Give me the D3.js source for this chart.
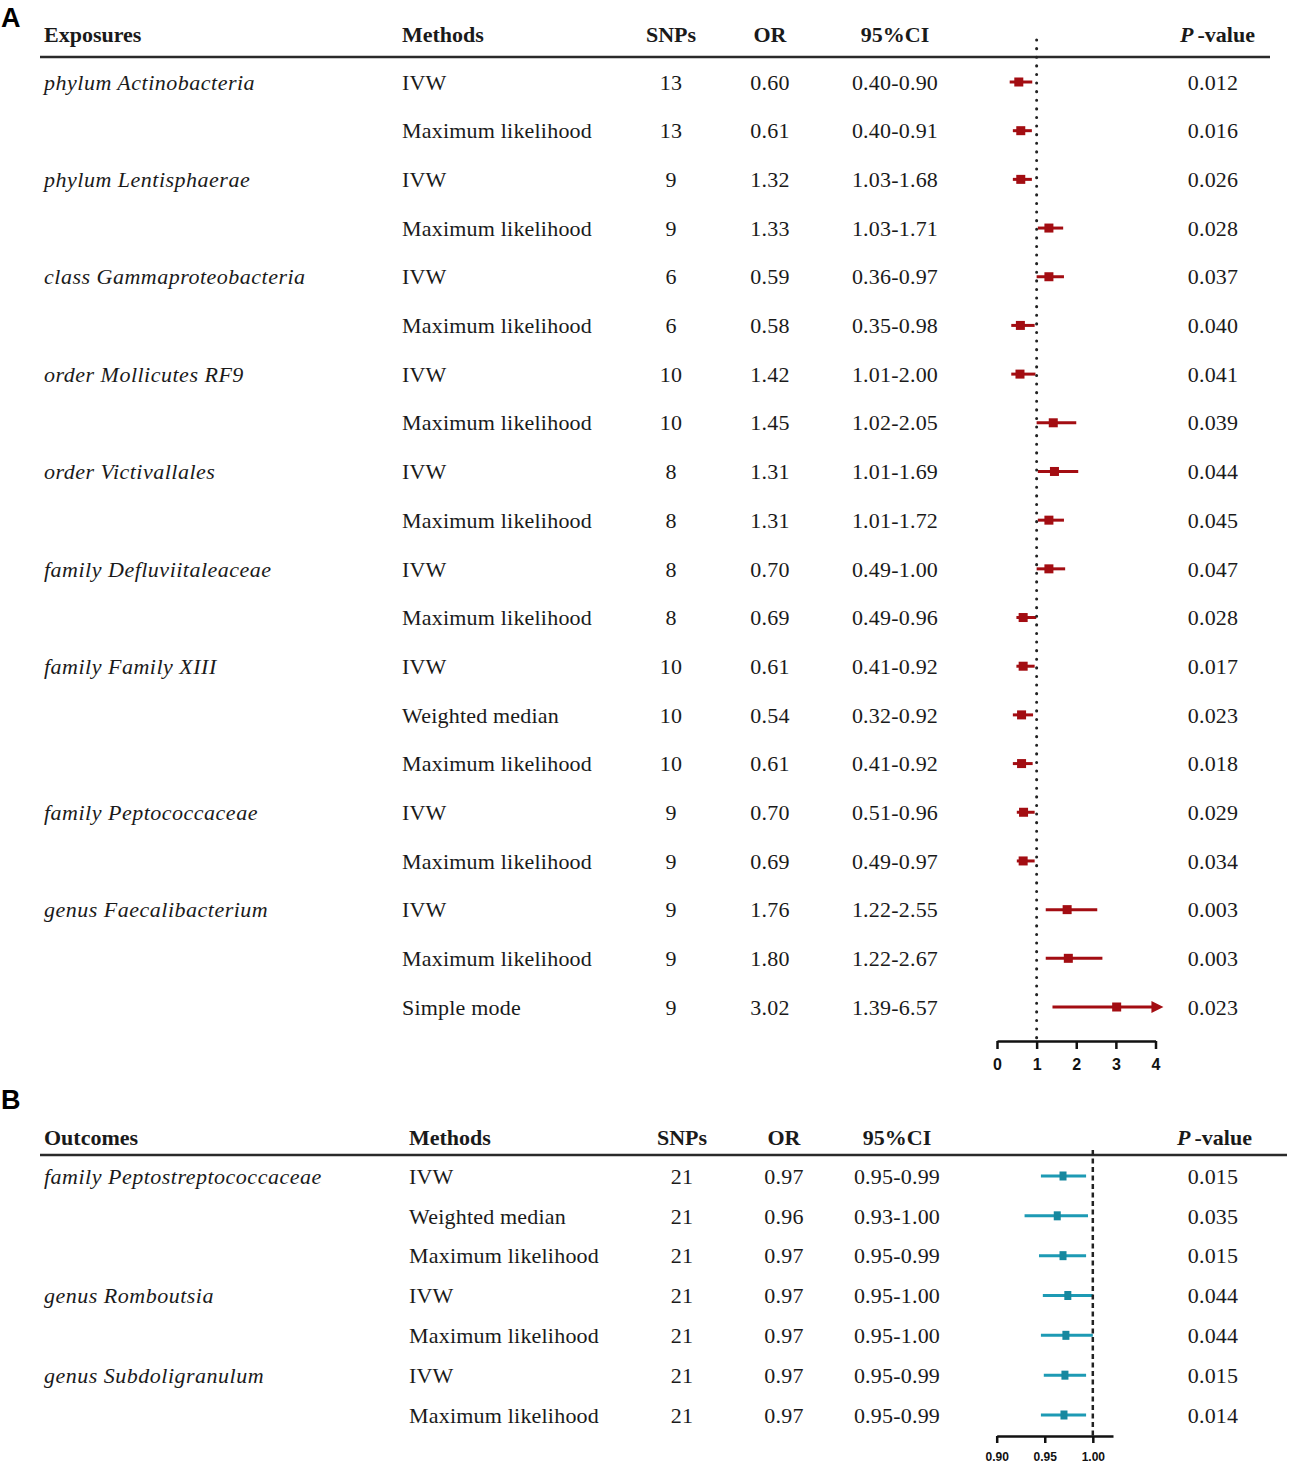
<!DOCTYPE html>
<html>
<head>
<meta charset="utf-8">
<script src="https://cdn.jsdelivr.net/npm/d3@7"></script>
<style>
  body { margin: 0; background: #fff; }
  svg text { font-family: "Liberation Serif", "Times New Roman", serif; fill: #1a1a1a; }
  .hdr { font-weight: bold; font-size: 22px; }
  .cell { font-size: 22px; letter-spacing: 0.2px; }
  .expo { font-style: italic; font-size: 22px; letter-spacing: 0.5px; }
  .panel { font-family: "Liberation Sans", Arial, sans-serif; font-weight: bold; font-size: 27px; fill: #000; }
  .axis text { font-family: "Liberation Sans", Arial, sans-serif; font-weight: bold; fill: #111; }
</style>
</head>
<body>
<svg id="chart"></svg>
<script>
// ---- panel A: exposures ----
var exposuresA = ["phylum Actinobacteria", "", "phylum Lentisphaerae", "", "class Gammaproteobacteria", "",
  "order Mollicutes RF9", "", "order Victivallales", "", "family Defluviitaleaceae", "",
  "family Family XIII", "", "", "family Peptococcaceae", "", "genus Faecalibacterium", "", ""];
var methodsA = ["IVW", "Maximum likelihood", "IVW", "Maximum likelihood", "IVW", "Maximum likelihood",
  "IVW", "Maximum likelihood", "IVW", "Maximum likelihood", "IVW", "Maximum likelihood",
  "IVW", "Weighted median", "Maximum likelihood", "IVW", "Maximum likelihood",
  "IVW", "Maximum likelihood", "Simple mode"];
var snpsA = ["13", "13", "9", "9", "6", "6", "10", "10", "8", "8", "8", "8", "10", "10", "10", "9", "9", "9", "9", "9"];
var orA = ["0.60", "0.61", "1.32", "1.33", "0.59", "0.58", "1.42", "1.45", "1.31", "1.31",
  "0.70", "0.69", "0.61", "0.54", "0.61", "0.70", "0.69", "1.76", "1.80", "3.02"];
var ciA = ["0.40-0.90", "0.40-0.91", "1.03-1.68", "1.03-1.71", "0.36-0.97", "0.35-0.98", "1.01-2.00", "1.02-2.05",
  "1.01-1.69", "1.01-1.72", "0.49-1.00", "0.49-0.96", "0.41-0.92", "0.32-0.92", "0.41-0.92", "0.51-0.96",
  "0.49-0.97", "1.22-2.55", "1.22-2.67", "1.39-6.57"];
var pA = ["0.012", "0.016", "0.026", "0.028", "0.037", "0.040", "0.041", "0.039", "0.044", "0.045",
  "0.047", "0.028", "0.017", "0.023", "0.018", "0.029", "0.034", "0.003", "0.003", "0.023"];
// where the marks sit in the figure
var plotOrA = [0.55, 0.60, 0.60, 1.31, 1.31, 0.59, 0.58, 1.42, 1.45, 1.31, 1.31, 0.66, 0.66, 0.62, 0.62, 0.67, 0.66, 1.77, 1.80, 3.02];
var plotLoA = [0.32, 0.40, 0.40, 1.03, 1.00, 0.36, 0.36, 1.00, 1.03, 1.03, 1.00, 0.49, 0.49, 0.40, 0.40, 0.50, 0.50, 1.23, 1.23, 1.40];
var plotHiA = [0.89, 0.88, 0.88, 1.67, 1.69, 0.95, 0.97, 2.00, 2.05, 1.69, 1.72, 0.99, 0.95, 0.91, 0.90, 0.95, 0.95, 2.53, 2.66, 6.57];
var ticksA = [0, 1, 2, 3, 4];

// ---- panel B: outcomes ----
var outcomesB = ["family Peptostreptococcaceae", "", "", "genus Romboutsia", "", "genus Subdoligranulum", ""];
var methodsB = ["IVW", "Weighted median", "Maximum likelihood", "IVW", "Maximum likelihood", "IVW", "Maximum likelihood"];
var snpsB = ["21", "21", "21", "21", "21", "21", "21"];
var orB = ["0.97", "0.96", "0.97", "0.97", "0.97", "0.97", "0.97"];
var ciB = ["0.95-0.99", "0.93-1.00", "0.95-0.99", "0.95-1.00", "0.95-1.00", "0.95-0.99", "0.95-0.99"];
var pB = ["0.015", "0.035", "0.015", "0.044", "0.044", "0.015", "0.014"];
var plotOrB = [0.969, 0.963, 0.969, 0.974, 0.972, 0.971, 0.970];
var plotLoB = [0.946, 0.929, 0.944, 0.948, 0.946, 0.949, 0.946];
var plotHiB = [0.993, 0.995, 0.993, 1.000, 1.000, 0.993, 0.993];
var ticksB = [0.90, 0.95, 1.00];

var width = 1295, height = 1475;
var red = "#a30d12", teal = "#1d9ab4";

var svg = d3.select("#chart").attr("width", width).attr("height", height);

function drawTable(g, cfg) {
  var n = cfg.methods.length;
  var y = d3.scalePoint().domain(d3.range(n)).range(cfg.rowRange);

  // header
  var hy = cfg.headerY;
  g.append("text").attr("class", "hdr").attr("x", cfg.col.name).attr("y", hy).attr("dy", "0.35em").text(cfg.nameTitle);
  g.append("text").attr("class", "hdr").attr("x", cfg.col.method).attr("y", hy).attr("dy", "0.35em").text("Methods");
  g.append("text").attr("class", "hdr").attr("x", cfg.col.snps).attr("y", hy).attr("dy", "0.35em").attr("text-anchor", "middle").text("SNPs");
  g.append("text").attr("class", "hdr").attr("x", cfg.col.or).attr("y", hy).attr("dy", "0.35em").attr("text-anchor", "middle").text("OR");
  g.append("text").attr("class", "hdr").attr("x", cfg.col.ci).attr("y", hy).attr("dy", "0.35em").attr("text-anchor", "middle").text("95%CI");
  var ph = g.append("text").attr("class", "hdr").attr("x", cfg.col.pEnd).attr("y", hy).attr("dy", "0.35em").attr("text-anchor", "end");
  ph.append("tspan").style("font-style", "italic").text("P");
  ph.append("tspan").attr("dx", 4).text("-value");

  g.append("line")
    .attr("x1", cfg.lineX[0]).attr("x2", cfg.lineX[1])
    .attr("y1", cfg.lineY).attr("y2", cfg.lineY)
    .attr("stroke", "#2a2a2a").attr("stroke-width", 2.5);

  var rows = g.selectAll(".row").data(d3.range(n)).enter().append("g")
    .attr("class", "row")
    .attr("transform", function(i) { return "translate(0," + y(i) + ")"; });

  rows.append("text").attr("class", "expo").attr("x", cfg.col.name).attr("dy", "0.35em")
    .text(function(i) { return cfg.names[i]; });
  rows.append("text").attr("class", "cell").attr("x", cfg.col.method).attr("dy", "0.35em")
    .text(function(i) { return cfg.methods[i]; });
  rows.append("text").attr("class", "cell").attr("x", cfg.col.snps).attr("dy", "0.35em").attr("text-anchor", "middle")
    .text(function(i) { return cfg.snps[i]; });
  rows.append("text").attr("class", "cell").attr("x", cfg.col.or).attr("dy", "0.35em").attr("text-anchor", "middle")
    .text(function(i) { return cfg.or[i]; });
  rows.append("text").attr("class", "cell").attr("x", cfg.col.ci).attr("dy", "0.35em").attr("text-anchor", "middle")
    .text(function(i) { return cfg.ci[i]; });
  rows.append("text").attr("class", "cell").attr("x", cfg.col.p).attr("dy", "0.35em").attr("text-anchor", "middle")
    .text(function(i) { return cfg.p[i]; });

  // forest plot
  var x = cfg.x;
  var xMax = x(cfg.clip);

  g.append("line")
    .attr("x1", x(1)).attr("x2", x(1))
    .attr("y1", cfg.refTop).attr("y2", cfg.axisY)
    .attr("stroke", "#222").attr("stroke-width", cfg.refWidth)
    .attr("stroke-linecap", cfg.refCap)
    .attr("stroke-dasharray", cfg.refDash);

  rows.append("line")
    .attr("x1", function(i) { return x(cfg.lo[i]); })
    .attr("x2", function(i) { return Math.min(x(cfg.hi[i]), xMax - (x(cfg.hi[i]) > xMax ? 10 : 0)); })
    .attr("stroke", cfg.color).attr("stroke-width", 3);

  rows.filter(function(i) { return x(cfg.hi[i]) > xMax; })
    .append("path")
    .attr("d", "M" + xMax + ",0L" + (xMax - 12) + ",-6L" + (xMax - 12) + ",6Z")
    .attr("fill", cfg.color);

  rows.append("rect")
    .attr("x", function(i) { return x(cfg.est[i]) - cfg.box[0] / 2; })
    .attr("y", -cfg.box[1] / 2)
    .attr("width", cfg.box[0]).attr("height", cfg.box[1])
    .attr("fill", cfg.boxColor);

  var axis = g.append("g").attr("class", "axis")
    .attr("transform", "translate(0," + cfg.axisY + ")")
    .call(d3.axisBottom(x).tickValues(cfg.ticks).tickSize(cfg.tickSize).tickSizeOuter(0)
      .tickPadding(cfg.tickPad).tickFormat(cfg.fmt));
  axis.select(".domain").attr("stroke", "#111").attr("stroke-width", 2.5);
  axis.selectAll(".tick line").attr("stroke", "#111").attr("stroke-width", 2.5);
  axis.selectAll(".tick text").style("font-size", cfg.tickFont + "px");
}

// panel labels
svg.append("text").attr("class", "panel").attr("x", 1).attr("y", 27).text("A");
svg.append("text").attr("class", "panel").attr("x", 1).attr("y", 1109).text("B");

drawTable(svg.append("g"), {
  nameTitle: "Exposures",
  names: exposuresA, methods: methodsA, snps: snpsA, or: orA, ci: ciA, p: pA,
  est: plotOrA, lo: plotLoA, hi: plotHiA,
  rowRange: [82, 1007], headerY: 34, lineY: 57, lineX: [40, 1270],
  col: { name: 44, method: 402, snps: 671, or: 770, ci: 895, p: 1213, pEnd: 1255 },
  x: d3.scaleLinear().domain([0, 4]).range([997, 1155.5]),
  clip: 4.2, ticks: ticksA, fmt: d3.format("d"),
  axisY: 1041, tickSize: 8, tickPad: 10, tickFont: 16,
  refTop: 40, refWidth: 3, refCap: "round", refDash: "0.1,8.5",
  color: red, boxColor: red, box: [9, 9]
});

drawTable(svg.append("g"), {
  nameTitle: "Outcomes",
  names: outcomesB, methods: methodsB, snps: snpsB, or: orB, ci: ciB, p: pB,
  est: plotOrB, lo: plotLoB, hi: plotHiB,
  rowRange: [1176, 1415], headerY: 1137, lineY: 1155, lineX: [40, 1287],
  col: { name: 44, method: 409, snps: 682, or: 784, ci: 897, p: 1213, pEnd: 1252 },
  x: d3.scaleLinear().domain([0.90, 1.021]).range([996.7, 1113]),
  clip: 1.021, ticks: ticksB, fmt: d3.format(".2f"),
  axisY: 1436, tickSize: 7, tickPad: 9, tickFont: 12,
  refTop: 1150, refWidth: 2.5, refCap: "butt", refDash: "5,3.5",
  color: teal, boxColor: "#16889f", box: [7, 9]
});
</script>
</body>
</html>
